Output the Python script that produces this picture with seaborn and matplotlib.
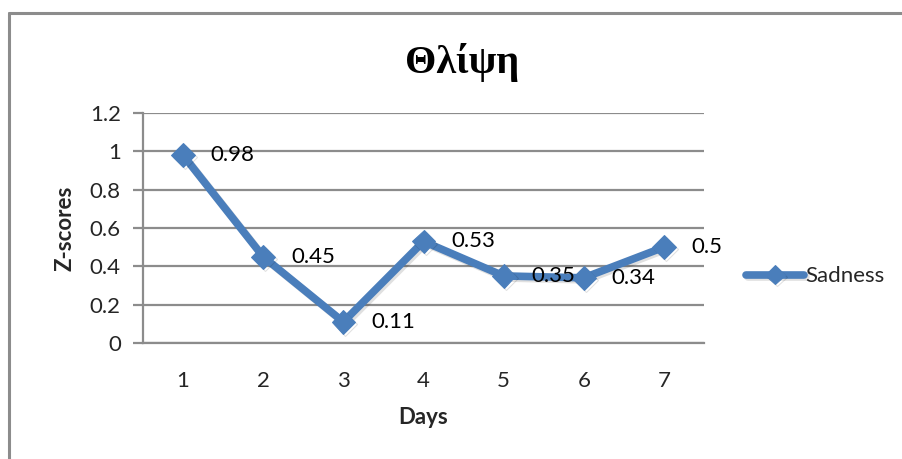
import matplotlib
matplotlib.use("Agg")
import matplotlib.pyplot as plt
import matplotlib.patheffects as pe
from matplotlib.lines import Line2D
from matplotlib.font_manager import FontProperties
import seaborn as sns
import pandas as pd

# Daily z-scores for the "Sadness" series
days = [1, 2, 3, 4, 5, 6, 7]
sadness = [0.98, 0.45, 0.11, 0.53, 0.35, 0.34, 0.50]
value_labels = ["0.98", "0.45", "0.11", "0.53", "0.35", "0.34", "0.5"]
y_ticks = [0, 0.2, 0.4, 0.6, 0.8, 1, 1.2]
y_tick_labels = ["0", "0.2", "0.4", "0.6", "0.8", "1", "1.2"]

df = pd.DataFrame({"Days": days, "Z-scores": sadness})

sns.set_theme(style="white")
plt.rcParams["font.family"] = ["Lato", "DejaVu Sans"]
plt.rcParams["font.serif"] = ["Liberation Serif", "DejaVu Serif"]

BLUE = "#4a7ebb"
GRID = "#8c8c8c"

fig = plt.figure(figsize=(9.02, 4.59), dpi=100)
ax = fig.add_axes([143 / 902, 1 - 343 / 459, 561 / 902, 230 / 459])

sns.lineplot(
    data=df, x="Days", y="Z-scores", ax=ax,
    color=BLUE, linewidth=5.5, marker="D", markersize=12,
    markeredgecolor=BLUE, markerfacecolor=BLUE, label="Sadness",
    path_effects=[pe.SimpleLineShadow(offset=(1.5, -1.5), alpha=0.12, shadow_color="black"),
                  pe.Normal()],
)

# value labels to the right of each point
for x, y, t in zip(days, sadness, value_labels):
    ax.annotate(t, (x, y), xytext=(20, 0), textcoords="offset points",
                ha="left", va="center", fontsize=16, color="black")

ax.set_xlim(0.5, 7.5)
ax.set_ylim(0, 1.2)
ax.set_xticks(days)
ax.set_xticklabels([str(d) for d in days])
ax.set_yticks(y_ticks)
ax.set_yticklabels(y_tick_labels)

ax.grid(axis="y", color=GRID, linewidth=1.6)
ax.grid(axis="x", visible=False)
for side in ["top", "right"]:
    ax.spines[side].set_visible(False)
for side in ["left", "bottom"]:
    ax.spines[side].set_color(GRID)
    ax.spines[side].set_linewidth(1.6)

ax.tick_params(axis="y", which="major", length=7, width=1.6, color=GRID,
               labelsize=16, pad=9, left=True)
ax.tick_params(axis="x", which="major", length=0, labelsize=16, pad=20)

ax.set_xlabel("Days", fontsize=16, fontweight="bold", labelpad=12)
ax.set_ylabel("Z-scores", fontsize=16, fontweight="bold", labelpad=10)

title_font = FontProperties(family="serif", weight="bold", size=29)
fig.text(462 / 902, 1 - 62 / 459, "Θλίψη", fontproperties=title_font,
         ha="center", va="center", color="black")

leg = ax.legend(loc="center left", bbox_to_anchor=(1.055, 0.29), frameon=False,
                fontsize=16, handlelength=2.6, handletextpad=0.05, borderpad=0)
for h in leg.legend_handles:
    h.set_markersize(10)

# chart border (top and left edges)
fig.add_artist(Line2D([9 / 902, 1.0], [1 - 13 / 459, 1 - 13 / 459],
                      transform=fig.transFigure, color=GRID, linewidth=2.2))
fig.add_artist(Line2D([9 / 902, 9 / 902], [0.0, 1 - 13 / 459],
                      transform=fig.transFigure, color=GRID, linewidth=2.2))

fig.savefig("out.png", dpi=100)
